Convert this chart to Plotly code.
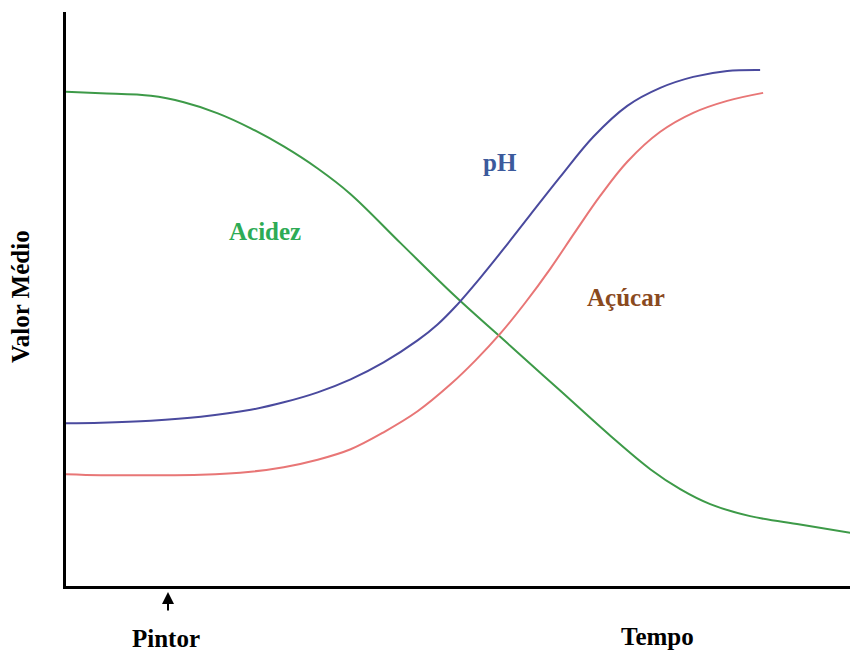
import plotly.graph_objects as go

# Time (arbitrary units) and mean values
tempo_acidez = [0, 35, 85, 118, 152, 185, 218, 252, 285, 335, 390, 445, 495, 545, 585, 615, 645, 685, 735, 793]
acidez = [495, 493.5, 491, 484.5, 473.5, 458.5, 440.3, 418.2, 392.5, 343.5, 290, 240.5, 195.5, 150.5, 117, 97, 82, 70, 61.5, 52]

tempo_ph = [0, 35, 85, 135, 185, 218, 252, 285, 318, 352, 372, 390, 415, 440, 465, 495, 528, 562, 595, 628, 662, 695]
ph = [163, 163.5, 165.5, 169.5, 176.5, 184, 194, 207, 224, 246, 262, 280, 309, 340, 372, 410, 450, 481, 499, 510, 516, 517]

tempo_acucar = [0, 35, 85, 135, 185, 218, 252, 285, 318, 352, 385, 410, 435, 460, 485, 510, 535, 562, 595, 628, 662, 698]
acucar = [112, 111, 111, 111.5, 114.5, 119, 126.5, 137, 154, 175, 202, 226, 253, 284, 318, 355, 391, 425, 455, 474, 486, 494]

fig = go.Figure()
fig.add_trace(go.Scatter(x=tempo_acidez, y=acidez, mode="lines",
                         line=dict(color="#3d9a48", width=2, shape="spline", smoothing=1),
                         name="Acidez"))
fig.add_trace(go.Scatter(x=tempo_ph, y=ph, mode="lines",
                         line=dict(color="#4a4a9e", width=2, shape="spline", smoothing=1),
                         name="pH"))
fig.add_trace(go.Scatter(x=tempo_acucar, y=acucar, mode="lines",
                         line=dict(color="#e87676", width=2, shape="spline", smoothing=1),
                         name="Açúcar"))

serif = "Liberation Serif"
fs = 25
W, H = 792, 574  # plot area size in px
fig.update_layout(
    width=850, height=643,
    margin=dict(l=58, r=0, t=4, b=65),
    paper_bgcolor="white", plot_bgcolor="white",
    showlegend=False,
    font=dict(family=serif, color="black"),
    xaxis=dict(range=[0, 793], showline=True, linecolor="black", linewidth=3,
               showgrid=False, zeroline=False, showticklabels=False, ticks=""),
    yaxis=dict(range=[0, 575], showline=True, linecolor="black", linewidth=3,
               showgrid=False, zeroline=False, showticklabels=False, ticks=""),
    annotations=[
        dict(x=199, y=355, text="<b>Acidez</b>", showarrow=False, xanchor="center", yanchor="middle",
             font=dict(size=fs, color="#2eab55", family=serif)),
        dict(x=435, y=424, text="<b>pH</b>", showarrow=False, xanchor="center", yanchor="middle",
             font=dict(size=fs, color="#3c5a9c", family=serif)),
        dict(x=561, y=289, text="<b>Açúcar</b>", showarrow=False, xanchor="center", yanchor="middle",
             font=dict(size=fs, color="#8a4a1e", family=serif)),
        dict(x=102 / W, y=-6 / H, xref="paper", yref="paper", ax=0, ay=20,
             text="", showarrow=True, arrowhead=2, arrowsize=1.2, arrowwidth=2, arrowcolor="black"),
        dict(x=100 / W, y=-52 / H, xref="paper", yref="paper", text="<b>Pintor</b>",
             xanchor="center", yanchor="middle", showarrow=False, font=dict(size=fs, family=serif)),
        dict(x=591 / W, y=-50 / H, xref="paper", yref="paper", text="<b>Tempo</b>",
             xanchor="center", yanchor="middle", showarrow=False, font=dict(size=fs, family=serif)),
        dict(x=-46 / W, y=289 / H, xref="paper", yref="paper", text="<b>Valor Médio</b>",
             xanchor="center", yanchor="middle", textangle=-90, showarrow=False,
             font=dict(size=fs, family=serif)),
    ],
)
fig.write_html("out.html")
